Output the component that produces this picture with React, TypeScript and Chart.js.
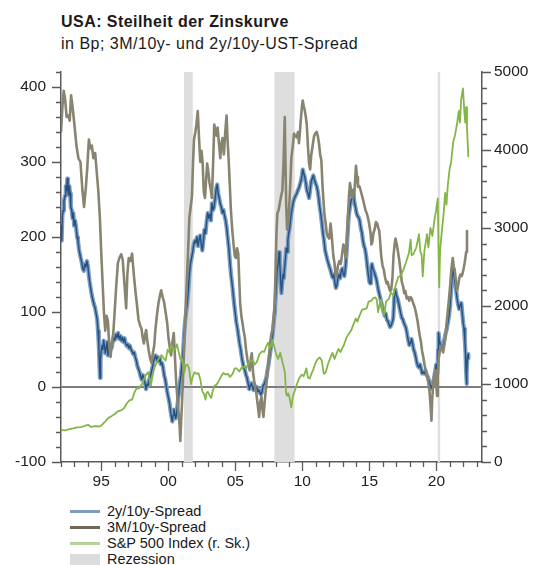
import React, { useEffect, useRef } from "react";
import { Chart, registerables } from "chart.js";

Chart.register(...registerables);

const FONT = '"Liberation Sans", Arial, Helvetica, sans-serif';

// ---- axis definitions ----
const xTickValues = [1995, 2000, 2005, 2010, 2015, 2020];
const xTickLabels = ["95", "00", "05", "10", "15", "20"];
const leftTickValues = [-100, 0, 100, 200, 300, 400];
const rightTickValues = [0, 1000, 2000, 3000, 4000, 5000];

// ---- recessions (start, end in decimal years) ----
const recessionStart = [2001.17, 2007.92, 2020.1];
const recessionEnd = [2001.83, 2009.42, 2020.28];

// ---- 2y/10y spread (bp) ----
const spread2y: [number, number][] = [
  [1992.0,215],[1992.05,195],[1992.1,228],[1992.15,235],[1992.22,248],[1992.3,255],[1992.36,268],[1992.42,262],[1992.47,278],[1992.52,262],[1992.57,256],[1992.62,268],[1992.68,258],[1992.73,240],[1992.8,236],[1992.86,225],[1992.92,232],[1992.98,215],
  [1993.05,222],[1993.12,214],[1993.2,200],[1993.26,196],[1993.33,185],[1993.4,178],[1993.47,172],[1993.55,166],[1993.62,158],[1993.7,155],[1993.78,164],[1993.86,160],[1993.93,168],
  [1994.0,162],[1994.07,150],[1994.14,140],[1994.22,131],[1994.3,122],[1994.38,116],[1994.46,110],[1994.54,106],[1994.62,98],[1994.7,90],[1994.76,75],[1994.82,55],[1994.87,30],[1994.91,12],[1994.95,38],
  [1995.0,48],[1995.06,55],[1995.12,50],[1995.18,62],[1995.25,55],[1995.3,45],[1995.37,52],[1995.44,60],[1995.5,42],[1995.56,50],[1995.63,48],[1995.7,55],[1995.78,52],[1995.86,60],[1995.94,65],
  [1996.02,63],[1996.1,70],[1996.18,66],[1996.26,72],[1996.34,64],[1996.42,68],[1996.5,62],[1996.58,66],[1996.66,60],[1996.74,65],[1996.82,58],[1996.9,55],[1996.98,57],
  [1997.06,52],[1997.14,55],[1997.22,50],[1997.3,48],[1997.38,44],[1997.46,46],[1997.54,40],[1997.62,35],[1997.7,28],[1997.78,24],[1997.86,20],[1997.94,14],
  [1998.02,10],[1998.1,16],[1998.18,12],[1998.26,5],[1998.34,-3],[1998.42,4],[1998.5,2],[1998.58,10],[1998.66,14],[1998.74,20],[1998.82,26],[1998.9,35],[1998.98,38],
  [1999.06,42],[1999.14,36],[1999.22,40],[1999.3,34],[1999.38,38],[1999.46,30],[1999.54,32],[1999.62,25],[1999.7,15],[1999.78,10],[1999.86,0],[1999.94,-8],
  [2000.02,-15],[2000.1,-22],[2000.17,-32],[2000.24,-40],[2000.3,-46],[2000.36,-38],[2000.42,-30],[2000.48,-35],[2000.55,-42],[2000.62,-36],[2000.7,-22],[2000.78,-10],[2000.86,5],[2000.94,15],
  [2001.02,30],[2001.1,45],[2001.18,70],[2001.26,88],[2001.34,100],[2001.42,112],[2001.5,130],[2001.58,152],[2001.66,165],[2001.74,172],[2001.82,180],[2001.9,190],[2001.98,195],
  [2002.06,192],[2002.14,200],[2002.22,188],[2002.3,196],[2002.38,202],[2002.46,190],[2002.54,182],[2002.62,195],[2002.7,210],[2002.78,205],[2002.86,220],[2002.94,232],
  [2003.02,225],[2003.1,230],[2003.18,222],[2003.26,245],[2003.34,236],[2003.42,240],[2003.5,252],[2003.58,265],[2003.65,270],[2003.72,258],[2003.8,252],[2003.88,244],[2003.96,240],
  [2004.04,232],[2004.12,236],[2004.2,228],[2004.28,222],[2004.36,212],[2004.44,198],[2004.52,185],[2004.6,166],[2004.68,150],[2004.76,138],[2004.84,124],[2004.92,110],
  [2005.0,98],[2005.08,86],[2005.16,78],[2005.24,68],[2005.32,58],[2005.4,50],[2005.48,40],[2005.56,32],[2005.64,26],[2005.72,22],[2005.8,16],[2005.88,12],[2005.96,5],
  [2006.04,-3],[2006.12,2],[2006.2,5],[2006.28,0],[2006.36,-4],[2006.44,2],[2006.52,-2],[2006.6,0],[2006.68,-6],[2006.76,-4],[2006.84,-8],[2006.92,-10],
  [2007.0,-6],[2007.08,2],[2007.16,4],[2007.24,8],[2007.32,13],[2007.4,22],[2007.48,30],[2007.56,40],[2007.64,50],[2007.72,60],[2007.8,72],[2007.88,88],[2007.96,102],
  [2008.04,130],[2008.12,155],[2008.2,165],[2008.26,180],[2008.32,165],[2008.38,142],[2008.44,125],[2008.5,138],[2008.56,150],[2008.62,145],[2008.68,160],[2008.74,172],[2008.8,185],[2008.86,180],[2008.92,195],[2008.98,205],
  [2009.04,210],[2009.1,220],[2009.18,232],[2009.26,240],[2009.34,248],[2009.42,252],[2009.5,255],[2009.58,258],[2009.66,262],[2009.74,265],[2009.82,270],[2009.9,275],[2009.97,282],
  [2010.03,290],[2010.1,285],[2010.18,280],[2010.26,272],[2010.34,262],[2010.42,258],[2010.5,252],[2010.58,262],[2010.66,274],[2010.74,278],[2010.82,282],[2010.9,276],[2010.98,272],
  [2011.06,268],[2011.14,262],[2011.22,252],[2011.3,240],[2011.38,230],[2011.46,218],[2011.54,205],[2011.62,195],[2011.7,182],[2011.78,176],[2011.86,170],[2011.94,165],
  [2012.02,160],[2012.1,156],[2012.18,150],[2012.26,146],[2012.34,150],[2012.42,140],[2012.5,132],[2012.58,136],[2012.66,146],[2012.74,150],[2012.82,145],[2012.9,155],[2012.98,158],
  [2013.06,150],[2013.14,148],[2013.22,160],[2013.3,180],[2013.38,205],[2013.46,228],[2013.54,238],[2013.6,245],[2013.66,250],[2013.72,255],[2013.78,262],[2013.84,252],[2013.9,245],[2013.96,240],
  [2014.04,232],[2014.12,228],[2014.2,226],[2014.28,222],[2014.36,212],[2014.44,206],[2014.52,195],[2014.6,188],[2014.68,184],[2014.76,175],[2014.84,162],[2014.92,150],
  [2015.0,140],[2015.06,138],[2015.12,155],[2015.19,164],[2015.26,158],[2015.34,154],[2015.42,150],[2015.5,145],[2015.58,138],[2015.66,130],[2015.74,124],[2015.82,118],[2015.9,112],[2015.98,106],
  [2016.06,100],[2016.14,95],[2016.22,98],[2016.3,90],[2016.38,88],[2016.46,84],[2016.54,80],[2016.62,82],[2016.7,86],[2016.78,92],[2016.86,120],[2016.94,130],
  [2017.02,122],[2017.1,118],[2017.18,112],[2017.26,105],[2017.34,98],[2017.42,92],[2017.5,90],[2017.58,85],[2017.66,82],[2017.74,78],[2017.82,70],[2017.9,62],[2017.98,56],
  [2018.06,58],[2018.14,64],[2018.22,58],[2018.3,50],[2018.38,46],[2018.46,40],[2018.54,32],[2018.62,28],[2018.7,26],[2018.78,30],[2018.86,24],[2018.94,18],
  [2019.02,20],[2019.1,18],[2019.18,22],[2019.26,16],[2019.34,14],[2019.42,10],[2019.5,6],[2019.56,2],[2019.62,-2],[2019.68,2],[2019.74,4],[2019.8,10],[2019.86,16],[2019.92,22],[2019.98,30],
  [2020.04,24],[2020.08,18],[2020.12,50],[2020.16,72],[2020.22,62],[2020.3,56],[2020.38,52],[2020.46,54],[2020.54,58],[2020.62,66],[2020.7,72],[2020.78,78],[2020.86,86],[2020.94,95],
  [2021.02,108],[2021.1,130],[2021.18,148],[2021.24,157],[2021.3,150],[2021.38,140],[2021.46,130],[2021.54,118],[2021.62,110],[2021.7,104],[2021.78,110],[2021.86,112],[2021.94,96],
  [2022.0,85],[2022.06,78],[2022.12,62],[2022.17,45],[2022.21,22],[2022.24,4],[2022.28,20],[2022.32,42],[2022.36,38],[2022.38,44]
];

// ---- 3M/10y spread (bp) ----
const spread3m: [number, number][] = [
  [1992.0,340],[1992.1,372],[1992.2,395],[1992.3,385],[1992.42,360],[1992.55,362],[1992.65,355],[1992.75,389],[1992.85,375],
  [1993.0,350],[1993.15,322],[1993.3,305],[1993.45,300],[1993.6,262],[1993.72,240],[1993.85,265],[1993.95,290],
  [1994.08,330],[1994.18,318],[1994.3,322],[1994.42,305],[1994.55,312],[1994.65,290],[1994.78,262],[1994.9,225],
  [1995.0,180],[1995.1,140],[1995.2,100],[1995.3,75],[1995.4,95],[1995.5,88],[1995.6,55],[1995.7,40],[1995.8,60],[1995.9,72],
  [1996.0,100],[1996.12,135],[1996.24,165],[1996.35,172],[1996.49,177],[1996.6,170],[1996.72,140],[1996.86,105],[1996.95,150],
  [1997.05,172],[1997.18,168],[1997.3,178],[1997.43,150],[1997.55,128],[1997.65,112],[1997.78,90],[1997.9,82],
  [1998.0,78],[1998.1,65],[1998.18,58],[1998.28,70],[1998.35,76],[1998.45,60],[1998.55,48],[1998.65,38],[1998.75,32],[1998.85,45],[1998.95,55],
  [1999.05,78],[1999.15,95],[1999.27,112],[1999.38,122],[1999.47,129],[1999.58,120],[1999.68,114],[1999.8,100],[1999.92,85],
  [2000.02,65],[2000.12,52],[2000.21,42],[2000.3,58],[2000.41,72],[2000.5,40],[2000.58,10],[2000.68,-15],[2000.76,-32],[2000.84,-50],[2000.9,-72],[2000.96,-45],
  [2001.03,-20],[2001.12,20],[2001.2,65],[2001.3,105],[2001.4,148],[2001.5,190],[2001.57,225],[2001.67,240],[2001.77,255],[2001.85,300],[2001.92,330],
  [2002.02,340],[2002.1,350],[2002.2,368],[2002.3,330],[2002.39,300],[2002.48,315],[2002.56,300],[2002.65,260],[2002.74,252],[2002.82,275],[2002.9,298],
  [2003.0,285],[2003.08,272],[2003.18,262],[2003.25,252],[2003.35,300],[2003.43,350],[2003.52,340],[2003.6,335],[2003.68,346],[2003.78,325],[2003.88,305],[2003.97,325],
  [2004.05,332],[2004.15,310],[2004.25,340],[2004.35,362],[2004.42,330],[2004.5,305],[2004.6,265],[2004.67,236],[2004.77,210],[2004.87,190],[2004.96,175],
  [2005.04,172],[2005.13,185],[2005.22,178],[2005.3,140],[2005.36,112],[2005.45,95],[2005.54,85],[2005.62,75],[2005.71,66],[2005.8,50],[2005.91,36],
  [2006.0,28],[2006.08,22],[2006.16,38],[2006.23,45],[2006.32,20],[2006.41,8],[2006.5,-2],[2006.58,-10],[2006.68,-25],[2006.78,-40],[2006.86,-20],[2006.95,-13],
  [2007.03,-30],[2007.1,-40],[2007.18,-22],[2007.27,-5],[2007.36,10],[2007.45,30],[2007.52,42],[2007.6,58],[2007.68,70],[2007.77,76],[2007.85,90],[2007.94,112],
  [2008.02,170],[2008.08,210],[2008.14,232],[2008.22,235],[2008.32,245],[2008.42,255],[2008.51,262],[2008.6,300],[2008.69,360],[2008.74,300],[2008.8,240],[2008.86,210],[2008.94,225],
  [2009.01,238],[2009.1,270],[2009.18,305],[2009.28,320],[2009.38,338],[2009.47,335],[2009.58,333],[2009.67,340],[2009.75,325],[2009.82,340],[2009.88,355],[2009.96,372],
  [2010.03,382],[2010.1,375],[2010.18,369],[2010.26,360],[2010.33,350],[2010.42,320],[2010.5,298],[2010.58,290],[2010.67,310],[2010.77,322],[2010.87,334],[2010.96,338],
  [2011.07,340],[2011.15,335],[2011.24,325],[2011.33,310],[2011.42,302],[2011.5,270],[2011.57,250],[2011.65,230],[2011.74,218],[2011.82,205],[2011.91,200],
  [2012.0,198],[2012.11,218],[2012.2,200],[2012.31,175],[2012.4,165],[2012.48,148],[2012.56,150],[2012.66,162],[2012.76,168],[2012.86,164],[2012.95,175],
  [2013.06,190],[2013.15,185],[2013.23,172],[2013.32,195],[2013.4,228],[2013.48,255],[2013.55,272],[2013.64,262],[2013.73,252],[2013.82,258],[2013.9,265],
  [2014.0,295],[2014.08,280],[2014.15,267],[2014.25,268],[2014.35,262],[2014.45,255],[2014.54,249],[2014.63,242],[2014.72,235],[2014.8,232],[2014.89,226],[2014.98,218],
  [2015.09,205],[2015.15,190],[2015.21,192],[2015.3,205],[2015.39,210],[2015.49,220],[2015.59,218],[2015.66,212],[2015.73,209],[2015.8,195],[2015.88,175],[2015.98,162],
  [2016.08,156],[2016.18,145],[2016.28,138],[2016.37,140],[2016.45,133],[2016.55,128],[2016.63,130],[2016.72,145],[2016.8,175],[2016.88,190],[2016.95,198],
  [2017.04,190],[2017.12,182],[2017.22,170],[2017.32,156],[2017.42,140],[2017.52,134],[2017.6,125],[2017.69,128],[2017.78,118],[2017.87,120],[2017.97,115],
  [2018.07,120],[2018.16,118],[2018.26,112],[2018.35,108],[2018.44,102],[2018.52,95],[2018.61,86],[2018.69,76],[2018.76,68],[2018.85,60],[2018.93,48],
  [2019.02,40],[2019.11,30],[2019.2,22],[2019.31,16],[2019.4,5],[2019.48,-5],[2019.55,-22],[2019.6,-35],[2019.63,-45],[2019.68,-18],[2019.75,0],[2019.82,12],[2019.9,22],[2019.96,10],
  [2020.05,-12],[2020.1,20],[2020.17,38],[2020.26,48],[2020.35,55],[2020.42,52],[2020.5,46],[2020.58,55],[2020.67,66],[2020.76,85],[2020.84,100],[2020.94,118],
  [2021.04,138],[2021.12,158],[2021.22,172],[2021.3,160],[2021.37,155],[2021.46,140],[2021.54,128],[2021.62,135],[2021.71,146],[2021.8,150],[2021.89,148],[2021.96,152],
  [2022.03,158],[2022.1,165],[2022.16,172],[2022.22,180],[2022.28,208]
];

// ---- S&P 500 index (right scale) ----
const sp500: [number, number][] = [
  [1992.0,410],[1992.3,405],[1992.6,420],[1992.9,430],[1993.2,445],[1993.5,448],[1993.8,465],[1994.05,475],[1994.25,450],[1994.55,460],[1994.85,455],
  [1995.0,465],[1995.25,510],[1995.5,560],[1995.75,585],[1996.0,615],[1996.25,650],[1996.5,665],[1996.7,690],[1996.9,750],
  [1997.1,790],[1997.3,800],[1997.5,900],[1997.65,950],[1997.8,940],[1997.95,975],[1998.1,1020],[1998.3,1110],[1998.5,1150],[1998.62,1050],[1998.7,980],[1998.8,1080],[1998.95,1200],
  [1999.1,1260],[1999.3,1330],[1999.5,1370],[1999.65,1330],[1999.8,1300],[1999.95,1440],[2000.1,1400],[2000.22,1500],[2000.35,1450],[2000.5,1440],[2000.65,1510],[2000.75,1430],[2000.9,1320],
  [2001.0,1330],[2001.1,1250],[2001.2,1150],[2001.3,1240],[2001.42,1250],[2001.55,1200],[2001.7,1000],[2001.8,1080],[2001.95,1150],
  [2002.1,1130],[2002.25,1140],[2002.4,1050],[2002.55,900],[2002.65,880],[2002.78,800],[2002.85,880],[2002.95,900],
  [2003.1,850],[2003.2,820],[2003.3,900],[2003.45,980],[2003.6,990],[2003.8,1050],[2003.95,1100],
  [2004.1,1140],[2004.3,1120],[2004.45,1130],[2004.6,1090],[2004.8,1130],[2004.95,1200],
  [2005.1,1200],[2005.3,1160],[2005.5,1220],[2005.7,1220],[2005.8,1190],[2005.95,1260],
  [2006.1,1280],[2006.3,1310],[2006.45,1250],[2006.6,1280],[2006.8,1380],[2007.0,1420],[2007.15,1410],[2007.3,1480],[2007.45,1530],[2007.55,1460],[2007.65,1480],[2007.78,1565],[2007.9,1480],
  [2008.05,1380],[2008.2,1320],[2008.35,1400],[2008.45,1330],[2008.55,1260],[2008.7,1150],[2008.78,900],[2008.85,850],[2008.95,880],
  [2009.05,820],[2009.18,700],[2009.3,850],[2009.45,920],[2009.6,1000],[2009.75,1070],[2009.95,1120],
  [2010.1,1100],[2010.3,1200],[2010.42,1080],[2010.55,1070],[2010.7,1140],[2010.85,1200],
  [2011.0,1280],[2011.15,1320],[2011.3,1340],[2011.45,1300],[2011.6,1130],[2011.75,1150],[2011.9,1250],
  [2012.05,1320],[2012.25,1400],[2012.4,1320],[2012.55,1390],[2012.7,1450],[2012.85,1410],[2012.98,1460],
  [2013.1,1500],[2013.3,1600],[2013.5,1650],[2013.65,1690],[2013.8,1760],[2013.98,1840],
  [2014.1,1800],[2014.25,1870],[2014.45,1950],[2014.6,1960],[2014.8,1970],[2014.95,2060],
  [2015.1,2060],[2015.3,2100],[2015.45,2110],[2015.55,2080],[2015.65,1920],[2015.75,2010],[2015.85,2080],
  [2016.0,1950],[2016.1,1880],[2016.25,2060],[2016.45,2090],[2016.6,2170],[2016.8,2140],[2016.95,2260],
  [2017.15,2370],[2017.35,2390],[2017.55,2470],[2017.75,2570],[2017.95,2680],
  [2018.08,2850],[2018.15,2650],[2018.3,2670],[2018.5,2750],[2018.7,2920],[2018.8,2700],[2018.9,2650],[2018.98,2380],
  [2019.1,2700],[2019.3,2920],[2019.4,2750],[2019.55,3000],[2019.7,2900],[2019.85,3100],[2019.98,3230],
  [2020.1,3380],[2020.17,2600],[2020.21,2240],[2020.27,2700],[2020.4,2950],[2020.55,3200],[2020.65,3450],[2020.75,3300],[2020.85,3550],[2020.98,3750],
  [2021.1,3850],[2021.25,4100],[2021.4,4200],[2021.55,4350],[2021.67,4500],[2021.75,4350],[2021.85,4650],[2021.98,4790],
  [2022.08,4500],[2022.15,4350],[2022.22,4550],[2022.28,4300],[2022.33,4100],[2022.38,3920]
];

const toXY = (arr: [number, number][]) => arr.map(([x, y]) => ({ x, y }));

const AXIS_COLOR = "#5a5a5a";

const decorPlugin = {
  id: "decor",
  beforeDatasetsDraw(chart: any) {
    const { ctx, chartArea: a, scales } = chart;
    const xs = scales.x;
    const ys = scales.y;
    ctx.save();
    ctx.fillStyle = "#dedede";
    recessionStart.forEach((s, i) => {
      const x0 = xs.getPixelForValue(s);
      const x1 = xs.getPixelForValue(recessionEnd[i]);
      ctx.fillRect(x0, a.top, Math.max(x1 - x0, 2), a.bottom - a.top);
    });
    const y0 = ys.getPixelForValue(0);
    ctx.strokeStyle = "#7d7d7d";
    ctx.lineWidth = 2;
    ctx.beginPath();
    ctx.moveTo(a.left, y0);
    ctx.lineTo(a.right, y0);
    ctx.stroke();
    ctx.restore();
  },
  afterDraw(chart: any) {
    const { ctx, chartArea: a, scales } = chart;
    const xs = scales.x;
    const ys = scales.y;
    const y2 = scales.y2;
    ctx.save();
    ctx.strokeStyle = AXIS_COLOR;
    ctx.lineWidth = 1.3;
    ctx.beginPath();
    for (let yr = Math.ceil(xs.min); yr <= Math.floor(xs.max); yr++) {
      const px = Math.round(xs.getPixelForValue(yr)) + 0.5;
      const len = xTickValues.includes(yr) ? 9 : 5;
      ctx.moveTo(px, a.bottom);
      ctx.lineTo(px, a.bottom + len);
    }
    for (let v = ys.min; v <= ys.max; v += 20) {
      const py = Math.round(ys.getPixelForValue(v)) + 0.5;
      const len = leftTickValues.includes(v) ? 9 : 5;
      ctx.moveTo(a.left - len, py);
      ctx.lineTo(a.left, py);
    }
    for (let v = y2.min; v <= y2.max; v += 200) {
      const py = Math.round(y2.getPixelForValue(v)) + 0.5;
      const len = rightTickValues.includes(v) ? 9 : 5;
      ctx.moveTo(a.right, py);
      ctx.lineTo(a.right + len, py);
    }
    ctx.stroke();
    ctx.restore();
  },
};

const tickFont = { family: FONT, size: 15.5 };

function ChartCanvas() {
  const ref = useRef<HTMLCanvasElement | null>(null);
  useEffect(() => {
    if (!ref.current) return;
    const chart = new Chart(ref.current, {
      type: "line",
      data: {
        datasets: [
          {
            label: "S&P 500 Index (r. Sk.)",
            data: toXY(sp500),
            yAxisID: "y2",
            borderColor: "#84b547",
            borderWidth: 1.8,
            pointRadius: 0,
            tension: 0,
            order: 0,
          },
          {
            label: "3M/10y-Spread",
            data: toXY(spread3m),
            yAxisID: "y",
            borderColor: "#888470",
            borderWidth: 2.6,
            pointRadius: 0,
            tension: 0,
            order: 1,
          },
          {
            label: "2y/10y-Spread",
            data: toXY(spread2y),
            yAxisID: "y",
            borderColor: "#24507f",
            borderWidth: 1.4,
            pointRadius: 0,
            tension: 0,
            order: 2,
          },
          {
            label: "2y/10y-Spread (Band)",
            data: toXY(spread2y),
            yAxisID: "y",
            borderColor: "#7d9ec3",
            borderWidth: 4.2,
            pointRadius: 0,
            tension: 0,
            order: 3,
          },
        ],
      },
      options: {
        responsive: false,
        animation: false,
        events: [],
        layout: { padding: { top: 72, left: 0, right: 0, bottom: 0 } },
        elements: { line: { borderJoinStyle: "round", borderCapStyle: "round" } },
        plugins: {
          legend: { display: false },
          title: { display: false },
          tooltip: { enabled: false },
        },
        scales: {
          x: {
            type: "linear",
            position: "bottom",
            min: 1992,
            max: 2023.4,
            afterFit: (s: any) => { s.height = 38; },
            afterBuildTicks: (s: any) => { s.ticks = xTickValues.map((v) => ({ value: v })); },
            ticks: {
              autoSkip: false,
              maxRotation: 0,
              padding: 10,
              color: "#222",
              font: tickFont,
              callback: (_v: any, i: number) => xTickLabels[i],
            },
            grid: { display: false, drawTicks: false, tickLength: 0 },
            border: { display: true, color: AXIS_COLOR, width: 1.5 },
          },
          y: {
            type: "linear",
            position: "left",
            min: -100,
            max: 420,
            afterFit: (s: any) => { s.width = 61; },
            afterBuildTicks: (s: any) => { s.ticks = leftTickValues.map((v) => ({ value: v })); },
            ticks: {
              padding: 15,
              color: "#222",
              font: tickFont,
              callback: (v: any) => String(v),
            },
            grid: { display: false, drawTicks: false, tickLength: 0 },
            border: { display: true, color: AXIS_COLOR, width: 1.5 },
          },
          y2: {
            type: "linear",
            position: "right",
            min: 0,
            max: 5000,
            afterFit: (s: any) => { s.width = 51; },
            afterBuildTicks: (s: any) => { s.ticks = rightTickValues.map((v) => ({ value: v })); },
            ticks: {
              padding: 12,
              color: "#222",
              font: tickFont,
              callback: (v: any) => String(v),
            },
            grid: { display: false, drawTicks: false, tickLength: 0 },
            border: { display: true, color: AXIS_COLOR, width: 1.5 },
          },
        },
      },
      plugins: [decorPlugin],
    } as any);
    return () => chart.destroy();
  }, []);
  return (
    <canvas
      ref={ref}
      width={533}
      height={500}
      style={{ position: "absolute", left: 0, top: 0, width: 533, height: 500 }}
    />
  );
}

const legendItems = [
  { label: "2y/10y-Spread", color: "#7f9dbf", kind: "line" },
  { label: "3M/10y-Spread", color: "#6e6a55", kind: "line" },
  { label: "S&P 500 Index (r. Sk.)", color: "#b7d19a", kind: "line" },
  { label: "Rezession", color: "#dcdcdc", kind: "box" },
];

export default function App() {
  const textBase: React.CSSProperties = {
    position: "absolute",
    fontFamily: FONT,
    color: "#1a1a1a",
    whiteSpace: "nowrap",
  };
  return (
    <div
      style={{
        position: "absolute",
        left: 0,
        top: 0,
        width: 533,
        height: 565,
        overflow: "hidden",
        background: "#fff",
      }}
    >
      <div style={{ ...textBase, left: 61, top: 14, fontSize: 16, lineHeight: "16px", fontWeight: "bold", letterSpacing: 0.45 }}>
        USA: Steilheit der Zinskurve
      </div>
      <div style={{ ...textBase, left: 61, top: 35.5, fontSize: 16, lineHeight: "16px", letterSpacing: 0.5 }}>
        in Bp; 3M/10y- und 2y/10y-UST-Spread
      </div>
      <ChartCanvas />
      {legendItems.map((it, i) => {
        const baseline = 516 + i * 16;
        return (
          <React.Fragment key={it.label}>
            {it.kind === "line" ? (
              <div
                style={{
                  position: "absolute",
                  left: 70,
                  top: baseline - 6.5,
                  width: 30,
                  height: 3,
                  background: it.color,
                }}
              />
            ) : (
              <div
                style={{
                  position: "absolute",
                  left: 70,
                  top: baseline - 10,
                  width: 30,
                  height: 12,
                  background: it.color,
                }}
              />
            )}
            <div style={{ ...textBase, left: 107, top: baseline - 13, fontSize: 14.5, lineHeight: "16px" }}>
              {it.label}
            </div>
          </React.Fragment>
        );
      })}
    </div>
  );
}
